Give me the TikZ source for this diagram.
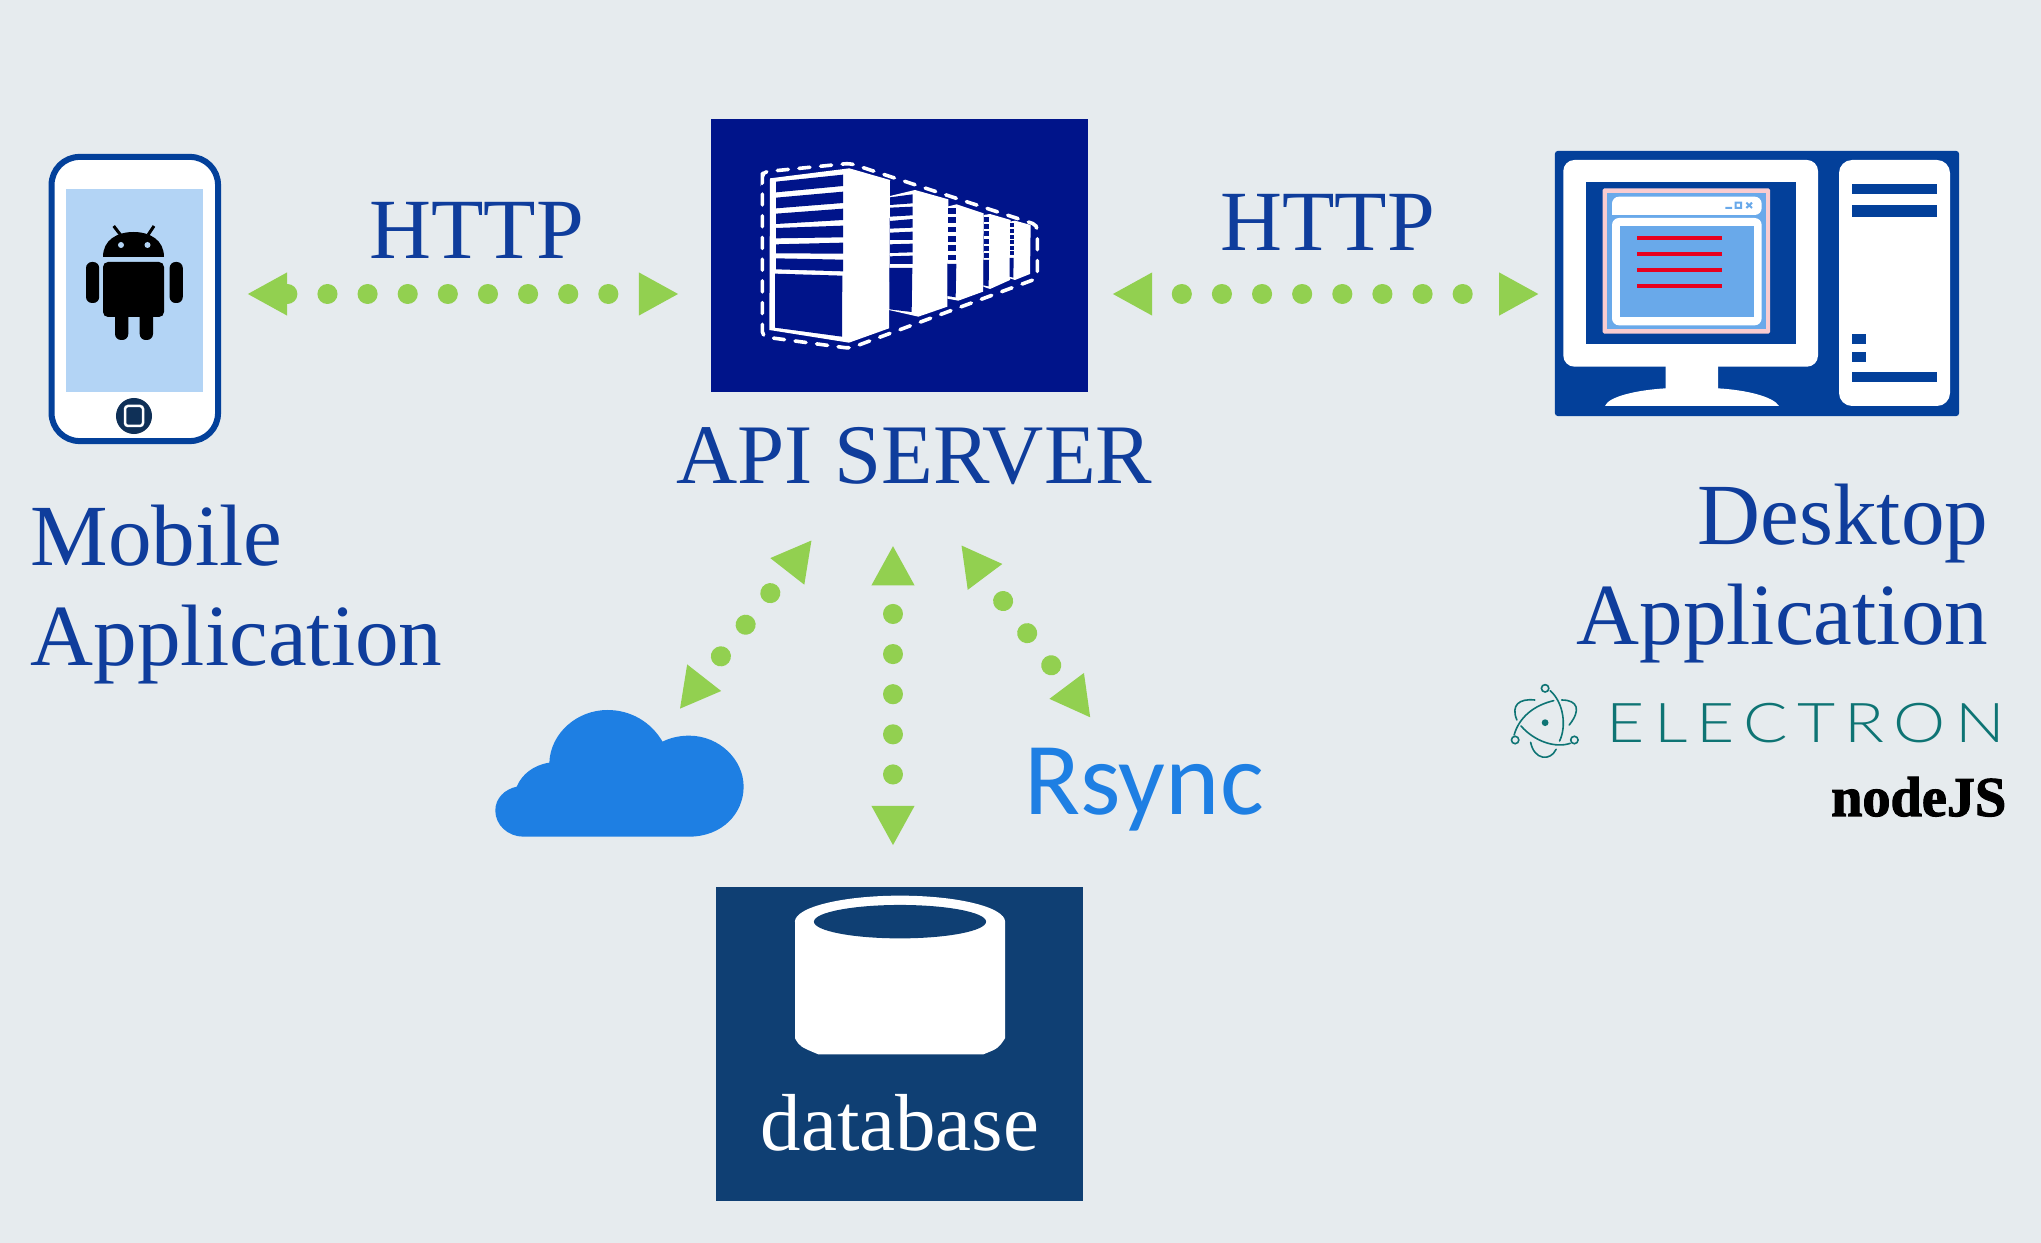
\documentclass[tikz,border=0pt]{standalone}
\usepackage{fontspec}
\setmainfont{Liberation Serif}
\newfontfamily\rsyncfont{Carlito}
\newfontfamily\electronfont[LetterSpace=17, FakeStretch=1.2]{Lato Light}
\newfontfamily\nodejsfont[FakeBold=2]{Liberation Serif Bold}
\usetikzlibrary{arrows.meta}
\usetikzlibrary{shapes}
\definecolor{bgGray}{HTML}{E6EBEE}
\definecolor{labelBlue}{HTML}{0F3D9C}
\definecolor{serverBlue}{HTML}{00148A}
\definecolor{desktopBlue}{HTML}{03409A}
\definecolor{dbBlue}{HTML}{0F3F73}
\definecolor{screenBlue}{HTML}{B3D4F5}
\definecolor{panelBlue}{HTML}{69A9EA}
\definecolor{cloudBlue}{HTML}{1E7FE3}
\definecolor{linkGreen}{HTML}{92D050}
\definecolor{windowPink}{HTML}{F9CCD0}
\definecolor{teal}{HTML}{0E7474}
\definecolor{lineRed}{HTML}{E8001E}
\definecolor{buttonNavy}{HTML}{0F3057}
\begin{document}
\begin{tikzpicture}[x=0.01cm, y=-0.01cm]
	\tikzstyle{boxStyle}=[shape = rectangle, inner sep = 0pt]
	\tikzstyle{labelStyle}=[inner sep = 0pt, text = labelBlue, font = \fontsize{24.4}{28.6}\selectfont]
	\tikzstyle{appLabelStyle}=[labelStyle, font = \fontsize{24.8}{28.6}\selectfont]
	\tikzstyle{dotLink}=[color = linkGreen, line width = 2mm, line cap = round, dash pattern = on 0.01mm off 4mm, arrows = {Triangle[length=4mm,width=4mm]-Triangle[length=4mm,width=4mm]}]
	\useasboundingbox (0,0) rectangle (2041,1243);
	\fill[bgGray] (0,0) rectangle (2041,1243);

	\node[boxStyle, fill = white, draw = desktopBlue, line width = 0.6mm, rounded corners = 2.8mm, minimum width = 16.64cm/10, minimum height = 2.84cm] (mobile) at (134.8,299) {};
	\fill[screenBlue] (65.5,189) rectangle (203,392);
	\fill[black] (103,257) .. controls (103,240) and (117,232) .. (133.5,232) .. controls (150,232) and (164,240) .. (164,257) -- cycle;
	\draw[black, line width = 0.03cm] (120.6,235) -- (113.7,226) (148,235) -- (154,226);
	\fill[screenBlue] (121,245) circle[radius = 0.03cm] (147.5,245) circle[radius = 0.03cm];
	\fill[black, rounded corners = 0.05cm] (103,262) -- (164,262) -- (164,317) -- (103,317) -- cycle;
	\foreach \armx in {86,169.6} {
		\fill[black, rounded corners = 0.06cm] (\armx,262) rectangle ++(13.2,41);
	}
	\foreach \legx in {115,139.7} {
		\fill[black, rounded corners = 0.06cm] (\legx,300) rectangle ++(13.3,40);
	}
	\fill[buttonNavy] (134,416) circle[radius = 0.18cm];
	\draw[white, line width = 0.025cm, rounded corners = 0.03cm] (125,406) rectangle (143,426);

	\node[boxStyle, fill = serverBlue, minimum width = 3.776cm, minimum height = 2.73cm] (server) at (899.5,255.5) {};
	\begin{scope}[shift = {(700,110)}, x = 0.01cm/3, y = -0.01cm/3]
		\fill[white] (210,205) -- (448,175) -- (570,210) -- (567,655) -- (447,698) -- (208,660) -- cycle;
		\foreach \ya/\yb/\yc/\yd in {215/194/228/247, 263/245/279/295, 311/296/330/342, 354/347/382/385, 403/398/431/430, 445/449/484/478} {
			\fill[serverBlue] (228,\ya) -- (429,\yb) -- (429,\yc) -- (228,\yd) -- cycle;
		}
		\fill[serverBlue] (225,491) -- (427,497) -- (426,680) -- (225,653) -- cycle;
		\fill[white] (570,258) -- (645,240) -- (745,268) -- (742,590) -- (655,620) -- (567,600) -- cycle;
		\foreach \ya/\yb/\yc/\yd in {262/253/280/285, 293/290/316/320, 333/327/353/356, 368/365/390/390, 403/401/427/429, 439/437/462/462} {
			\fill[serverBlue] (570,\ya) -- (638,\yb) -- (638,\yc) -- (570,\yd) -- cycle;
		}
		\fill[serverBlue] (568,474) -- (637,474) -- (635,606) -- (568,598) -- cycle;
		\fill[white] (742,290) -- (770,283) -- (851,310) -- (849,545) -- (775,572) -- (742,566) -- cycle;
		\foreach \ya in {294,322,350,378,406,434} {
			\fill[serverBlue] (744,\ya) rectangle (769,\ya+17);
		}
		\fill[serverBlue] (742,462) -- (769,462) -- (767,562) -- (742,558) -- cycle;
		\fill[white] (851,315) -- (870,312) -- (932,330) -- (930,510) -- (870,537) -- (850,530) -- cycle;
		\foreach \ya in {320,342,364,386,408,429} {
			\fill[serverBlue] (851,\ya) rectangle (868,\ya+15);
		}
		\fill[serverBlue] (850,450) -- (867,450) -- (866,529) -- (850,526) -- cycle;
		\fill[white] (930,335) -- (945,332) -- (992,345) -- (990,492) -- (945,510) -- (929,505) -- cycle;
		\foreach \ya in {338,357,375,391,407,424} {
			\fill[serverBlue] (930,\ya) rectangle (942,\ya+12);
		}
		\fill[serverBlue] (929,444) -- (941,444) -- (940,503) -- (929,500) -- cycle;
		\draw[white, line width = 0.036cm, line cap = round, dash pattern = on 0.11cm off 0.107cm, rounded corners = 0.05cm] (187,205) -- (187,186) -- (450,160) -- (1012,345) -- (1012,505) -- (450,715) -- (187,680) -- cycle;
	\end{scope}

	\node[boxStyle, fill = desktopBlue, rounded corners = 0.03cm, minimum width = 4.04cm, minimum height = 2.65cm] (desktop) at (1757,283.5) {};
	\begin{scope}[shift = {(1540,140)}, x = 0.01cm/3, y = -0.01cm/3]
		\fill[white, rounded corners = 0.11cm] (70,60) rectangle (834,680);
		\fill[white] (377,670) -- (377,745) .. controls (290,750) and (205,770) .. (195,798) -- (717,798) .. controls (700,770) and (620,750) .. (534,745) -- (534,670) -- cycle;
		\fill[desktopBlue] (137,126) rectangle (768,612);
		\fill[windowPink, rounded corners = 0.015cm] (188,145) rectangle (690,581);
		\fill[panelBlue] (202,158) rectangle (677,568);
		\fill[white, rounded corners = 0.07cm] (216,225) -- (216,170) -- (665,170) -- (665,225) [sharp corners] -- cycle;
		\fill[white, rounded corners = 0.07cm] (216,234) rectangle (665,556);
		\fill[panelBlue] (240,258) rectangle (642,532);
		\foreach \yr in {294,342,390,438} {
			\draw[lineRed, line width = 0.033cm] (291,\yr) -- (546,\yr);
		}
		\draw[panelBlue, line width = 0.02cm] (556,204) -- (576,204) (587,188) rectangle (603,204) (619,188) -- (636,204) (636,188) -- (619,204);
		\fill[white, rounded corners = 0.13cm] (897,60) rectangle (1230,798);
		\foreach \xa/\ya/\xb/\yb in {935/132/1191/162, 935/196/1191/232, 935/582/978/612, 935/636/978/666, 935/695/1191/725} {
			\fill[desktopBlue] (\xa,\ya) rectangle (\xb,\yb);
		}
	\end{scope}

	\node[boxStyle, fill = dbBlue, minimum width = 3.67cm, minimum height = 3.14cm] (database) at (899.5,1043.7) {};
	\begin{scope}[shift = {(700,870)}, x = 0.01cm/3, y = -0.01cm/3]
		\fill[white] (285,155) -- (285,505) .. controls (300,530) .. (355,553) -- (850,553) .. controls (895,535) .. (915,505) -- (915,155) -- cycle;
		\fill[white] (600,155) ellipse[x radius = 1.05cm, y radius = 0.26cm];
		\fill[dbBlue] (600,155) ellipse[x radius = 0.86cm, y radius = 0.167cm];
	\end{scope}
	\node[inner sep = 0pt, anchor = base, text = white, font = \fontsize{23}{26}\selectfont] (databaseLabel) at (900,1150) {database};

	\node[boxStyle, minimum width = 2.49cm, minimum height = 1.27cm] (cloud) at (619.5,773.5) {};
	\begin{scope}[shift = {(480,530)}, x = 0.01cm/1.96, y = -0.01cm/3]
		\fill[cloudBlue] (85,920) -- (410,920) .. controls (475,920) and (517,850) .. (517,770) .. controls (517,690) and (470,617) .. (410,617) .. controls (390,617) and (372,624) .. (358,635) .. controls (335,575) and (295,540) .. (250,540) .. controls (190,540) and (138,610) .. (136,698) .. controls (105,705) and (82,733) .. (72,770) .. controls (48,778) and (30,805) .. (30,842) .. controls (30,885) and (55,920) .. (85,920) -- cycle;
	\end{scope}

	\node[labelStyle, anchor = base] (httpLeft) at (476.5,259) {HTTP};
	\node[labelStyle, anchor = base] (httpRight) at (1327.6,251) {HTTP};
	\node[labelStyle, anchor = base, font = \fontsize{24.1}{28.6}\selectfont] (apiLabel) at (914.4,483.5) {API SERVER};
	\node[appLabelStyle, anchor = north west, align = left] (mobileLabel) at (30,504) {Mobile\\Application};
	\node[appLabelStyle, anchor = north east, align = right] (desktopLabel) at (1989,483) {Desktop\\Application};
	\node[inner sep = 0pt, anchor = base, text = cloudBlue, font = \fontsize{29.4}{32}\rsyncfont] (rsync) at (1144,815) {Rsync};
	\node[inner sep = 0pt, anchor = base west, text = teal, font = \fontsize{15.6}{18}\electronfont] (electron) at (1606,742.7) {ELECTRON};
	\node[inner sep = 0pt, anchor = base, text = black, font = \fontsize{16}{18}\nodejsfont] (nodejs) at (1918.7,816) {nodeJS};

	\begin{scope}[shift = {(1490,660)}, x = 0.01cm/2.904, y = -0.01cm/3]
		\fill[teal] (160,188) circle[radius = 0.034cm];
		\draw[teal, line width = 0.016cm, line cap = round] (160,85) circle[radius = 0.037cm] (73,240) circle[radius = 0.037cm] (245,240) circle[radius = 0.037cm];
		\draw[teal, line width = 0.016cm, line cap = round] (175,92) .. controls (215,130) and (222,200) .. (202,243) (118,247) .. controls (128,300) and (175,305) .. (192,268) (185,122) .. controls (130,135) and (85,170) .. (70,225) (90,198) .. controls (130,245) and (190,265) .. (233,250) (130,120) .. controls (85,115) and (60,135) .. (78,180) (208,120) .. controls (255,120) and (265,150) .. (230,195);
	\end{scope}

	\draw[dotLink, dash phase = 0.374cm, shorten <= 0.26cm, shorten >= 0.31cm] ([yshift = 0.05cm]mobile.east) -- ([yshift = 0.05cm]mobile.east -| server.west);
	\draw[dotLink, dash phase = 0.08cm, shorten <= 0.23cm, shorten >= 0.15cm] ([yshift = -0.385cm]server.east) -- ([yshift = -0.385cm]server.east -| desktop.west);
	\draw[dotLink, dash phase = 0.091cm, shorten <= 1.525cm, shorten >= 0.40cm] ([xshift = -0.065cm]server.south) -- ([xshift = -0.065cm]database.north);
	\draw[dotLink, dash phase = 0.105cm] ([xshift = 0.6cm]cloud.north) -- ([xshift = -0.875cm, yshift = -1.47cm]server.south);
	\draw[dotLink, dash phase = 0.075cm] ([xshift = 0.615cm, yshift = -1.52cm]server.south) -- ([xshift = -0.533cm, yshift = 0.30cm]rsync.north);
\end{tikzpicture}
\end{document}
